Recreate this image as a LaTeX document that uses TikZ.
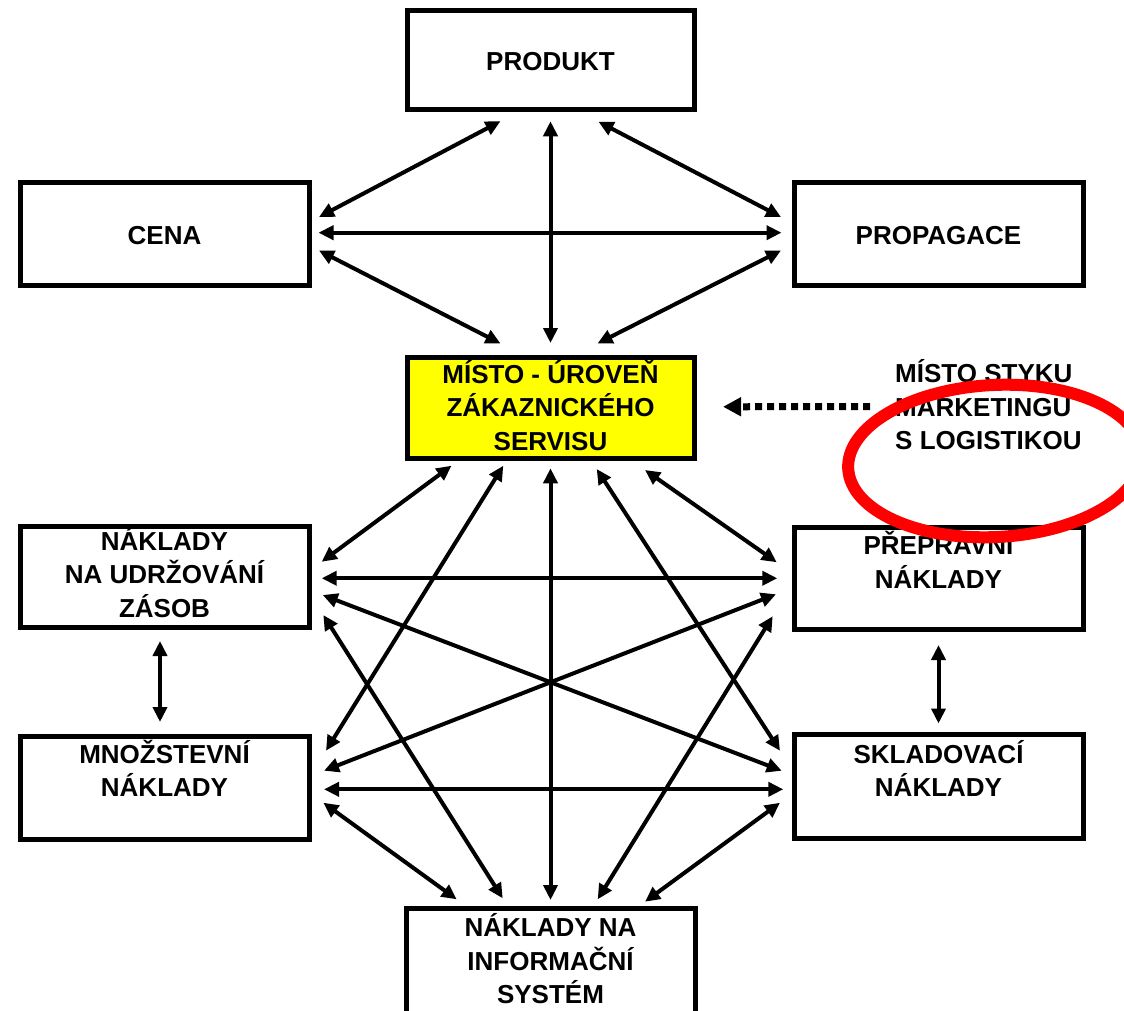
\documentclass[tikz,border=0pt]{standalone}
\usepackage{fontspec}
\setmainfont{Liberation Sans}[BoldFont={Liberation Sans Bold}]
\usetikzlibrary{arrows.meta}
\definecolor{boxyellow}{RGB}{255,255,0}
\definecolor{ringred}{RGB}{255,0,0}
\begin{document}
\begin{tikzpicture}[x=1pt, y=1pt,
  box/.style={draw=black, line width=5pt, rectangle, inner sep=0pt, outer sep=0pt,
    minimum width=289pt, minimum height=103pt},
  midbox/.style={box, minimum width=287pt},
  txt/.style={font=\fontsize{26}{33.5}\selectfont\bfseries, align=center, inner sep=0pt, text=black},
  conn/.style={line width=4pt, >={Triangle[length=15pt,width=14pt]}, <->},
  dotconn/.style={line width=7pt, dash pattern=on 7pt off 5pt, -{Triangle[length=18pt,width=18pt]}}
]
\useasboundingbox (0,0) rectangle (1124,-1010);
\clip (0,0) rectangle (1124,-1010);

% boxes
\node[midbox, minimum height=98.5pt] (produkt) at (550.5,-60) {};
\node[box] (cena) at (164.5,-233.5) {};
\node[box] (propagace) at (938.5,-233.5) {};
\node[midbox, minimum height=100.5pt, fill=boxyellow] (misto) at (550.5,-407.75) {};
\node[box, minimum height=100.5pt] (uz) at (164.5,-576.75) {};
\node[box, minimum height=101.5pt] (prep) at (938.5,-578.25) {};
\node[box] (mnoz) at (164.5,-787.5) {};
\node[box, minimum height=103.5pt] (sklad) at (938.5,-786.25) {};
\node[midbox, minimum width=289pt, minimum height=200pt] (info) at (550.5,-1008) {};

% box texts
\node[txt] (produkt-t) at (550.5,-64) {\strut PRODUKT};
\node[txt] (cena-t) at (164.5,-237.3) {\strut CENA};
\node[txt] (propagace-t) at (938.5,-237.3) {\strut PROPAGACE};
\node[txt] (misto-t) at (550.5,-409.8) {\strut MÍSTO - ÚROVEŇ\\\strut ZÁKAZNICKÉHO\\\strut SERVISU};
\node[txt] (uz-t) at (164.5,-576.8) {\strut NÁKLADY\\\strut NA UDRŽOVÁNÍ\\\strut ZÁSOB};
\node[txt] (prep-t) at (938.5,-565) {\strut PŘEPRAVNÍ\\\strut NÁKLADY};
\node[txt] (mnoz-t) at (164.5,-773.5) {\strut MNOŽSTEVNÍ\\\strut NÁKLADY};
\node[txt] (sklad-t) at (938.5,-773.4) {\strut SKLADOVACÍ\\\strut NÁKLADY};
\node[txt] (info-t) at (550.5,-963.5) {\strut NÁKLADY NA\\\strut INFORMAČNÍ\\\strut SYSTÉM};
\node[txt, align=left, anchor=west] (styk) at (895,-409.5) {\strut MÍSTO STYKU\\\strut MARKETINGU\\\strut S LOGISTIKOU};

% marketing mix links
\draw[conn] ([shift={(-50,-12)}]produkt.south) -- ([shift={(10,16.5)}]cena.east);
\draw[conn] ([shift={(0,-12)}]produkt.south) -- ([shift={(0,14.5)}]misto.north);
\draw[conn] ([shift={(48,-12.5)}]produkt.south) -- ([shift={(-13,16.5)}]propagace.west);
\draw[conn] ([shift={(9.5,0.8)}]cena.east) -- ([shift={(-12.5,0.8)}]propagace.west);
\draw[conn] ([shift={(10,-17)}]cena.east) -- ([shift={(-50,14)}]misto.north);
\draw[conn] ([shift={(-13,-17)}]propagace.west) -- ([shift={(47,14)}]misto.north);

% logistics cost links
\draw[conn] ([shift={(-99,-7.7)}]misto.south) -- ([shift={(12.7,15)}]uz.east);
\draw[conn] ([shift={(-47.2,-7.7)}]misto.south) -- ([shift={(17,36.8)}]mnoz.east);
\draw[conn] ([shift={(0,-10.3)}]misto.south) -- ([shift={(0,8)}]info.north);
\draw[conn] ([shift={(46.2,-11)}]misto.south) -- ([shift={(-14,35.5)}]sklad.west);
\draw[conn] ([shift={(94.5,-12)}]misto.south) -- ([shift={(-17.3,16)}]prep.west);
\draw[conn] ([shift={(12.7,-1.5)}]uz.east) -- ([shift={(-16.7,0)}]prep.west);
\draw[conn] ([shift={(13.7,-18.25)}]uz.east) -- ([shift={(-12.3,15.5)}]sklad.west);
\draw[conn] ([shift={(-18,-16)}]prep.west) -- ([shift={(15,16.8)}]mnoz.east);
\draw[conn] ([shift={(14.3,-38.25)}]uz.east) -- ([shift={(-47.8,9.7)}]info.north);
\draw[conn] ([shift={(-21.3,-38)}]prep.west) -- ([shift={(47.2,8.7)}]info.north);
\draw[conn] ([shift={(15,-1.8)}]mnoz.east) -- ([shift={(-10.7,-3.05)}]sklad.west);
\draw[conn] ([shift={(14.3,-15.2)}]mnoz.east) -- ([shift={(-93.8,8.7)}]info.north);
\draw[conn] ([shift={(-14,-16.5)}]sklad.west) -- ([shift={(94.5,6.3)}]info.north);
\draw[conn] ([shift={(-4.5,-14)}]uz.south) -- ([shift={(-4.5,14)}]mnoz.north);
\draw[conn] ([shift={(0,-16)}]prep.south) -- ([shift={(0,11)}]sklad.north);

% pointer from the note to the service box
\draw[dotconn] ([shift={(-25,2.8)}]styk.west) -- ([shift={(29,1)}]misto.east);

% highlight ring
\draw[ringred, line width=12pt, rotate around={3:(995,-461)}] (995,-461) ellipse [x radius=147pt, y radius=76pt];
\end{tikzpicture}
\end{document}
